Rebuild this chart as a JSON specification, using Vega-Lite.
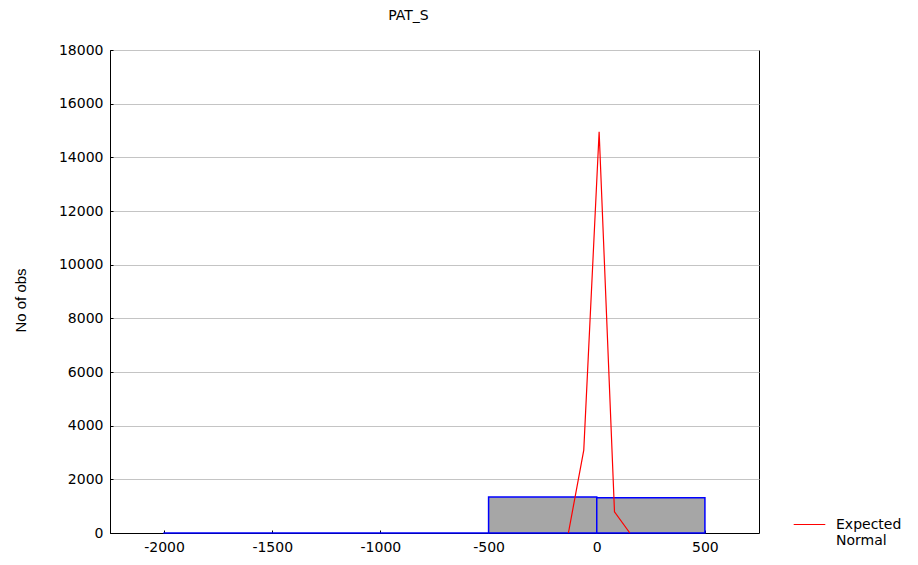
{
  "$schema": "https://vega.github.io/schema/vega-lite/v6.json",
  "width": 649,
  "height": 483,
  "autosize": {"type": "none"},
  "padding": {"left": 110, "top": 50, "right": 159, "bottom": 32},
  "background": "white",
  "config": {
    "view": {"stroke": "black", "strokeWidth": 1},
    "font": "DejaVu Sans",
    "axis": {
      "labelFont": "DejaVu Sans",
      "labelFontSize": 14,
      "labelColor": "#000000",
      "domainColor": "#000000",
      "tickColor": "#000000",
      "titleFont": "Liberation Sans",
      "titleFontWeight": "normal",
      "titleFontSize": 15,
      "titleColor": "#000000"
    }
  },
  "title": {
    "text": "PAT_S",
    "font": "DejaVu Sans",
    "fontSize": 14,
    "fontWeight": "normal",
    "color": "#000000",
    "anchor": "middle",
    "dx": -26,
    "offset": 20
  },
  "datasets": {
    "bars": [
      {"lo": -2000, "hi": -500, "count": 3},
      {"lo": -500, "hi": 0, "count": 1342},
      {"lo": 0, "hi": 500, "count": 1316}
    ],
    "normal": [
      {"x": -131, "y": 0},
      {"x": -60, "y": 3090},
      {"x": 11, "y": 14950},
      {"x": 82, "y": 790},
      {"x": 153, "y": 0}
    ]
  },
  "layer": [
    {
      "data": {"name": "bars"},
      "mark": {"type": "rect", "fill": "#a6a6a6", "stroke": "#0000ff", "strokeWidth": 1.5},
      "encoding": {
        "x": {
          "field": "lo", "type": "quantitative",
          "scale": {"domain": [-2250, 750], "nice": false, "zero": false},
          "axis": {
            "values": [-2000, -1500, -1000, -500, 0, 500],
            "labelExpr": "datum.value + ''",
            "title": null,
            "grid": false,
            "tickSize": -3,
            "labelPadding": 10,
            "labelFlush": false
          }
        },
        "x2": {"field": "hi"},
        "y": {
          "field": "count", "type": "quantitative",
          "scale": {"domain": [0, 18000], "nice": false},
          "axis": {
            "values": [0, 2000, 4000, 6000, 8000, 10000, 12000, 14000, 16000, 18000],
            "labelExpr": "datum.value + ''",
            "title": "No of obs",
            "titleX": -90,
            "titleY": 250,
            "titleBaseline": "middle",
            "grid": true,
            "gridColor": "#c4c4c4",
            "gridWidth": 1,
            "tickSize": -3,
            "labelPadding": 10,
            "labelFlush": false
          }
        },
        "y2": {"datum": 0}
      }
    },
    {
      "data": {"name": "normal"},
      "mark": {"type": "line", "strokeWidth": 1.2},
      "encoding": {
        "x": {"field": "x", "type": "quantitative"},
        "y": {"field": "y", "type": "quantitative"},
        "color": {
          "datum": "Expected Normal",
          "type": "nominal",
          "scale": {"range": ["#ff0000"]},
          "legend": {
            "orient": "none",
            "legendX": 683,
            "legendY": 458,
            "title": null,
            "symbolType": "stroke",
            "symbolSize": 1000,
            "symbolStrokeWidth": 1,
            "labelFont": "DejaVu Sans",
            "labelFontSize": 14,
            "labelColor": "#000000",
            "labelOffset": 10,
            "labelExpr": "['Expected', 'Normal']",
            "labelLimit": 200
          }
        }
      }
    }
  ]
}
